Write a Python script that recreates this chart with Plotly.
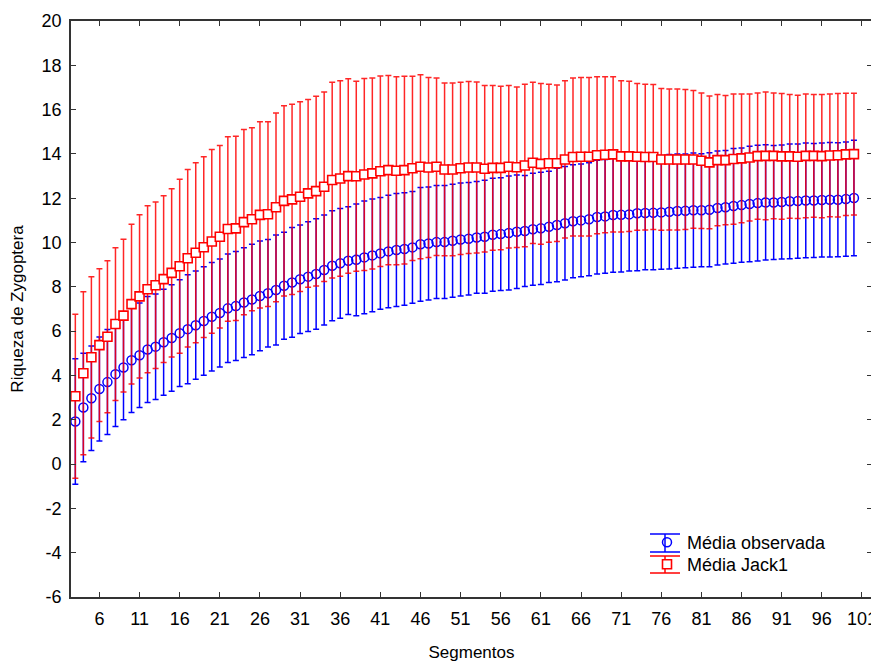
import plotly.graph_objects as go

segmentos = list(range(3, 101))

media_obs = [1.92, 2.55, 2.97, 3.39, 3.70, 4.06, 4.36, 4.69, 4.91, 5.17,
             5.30, 5.50, 5.69, 5.91, 6.09, 6.27, 6.46, 6.65, 6.82, 7.03,
             7.13, 7.29, 7.43, 7.59, 7.71, 7.86, 8.05, 8.20, 8.34, 8.46,
             8.58, 8.76, 8.95, 9.06, 9.18, 9.22, 9.33, 9.42, 9.51, 9.60,
             9.66, 9.71, 9.78, 9.92, 9.96, 10.02, 10.02, 10.08, 10.14, 10.17,
             10.23, 10.26, 10.35, 10.38, 10.43, 10.49, 10.52, 10.60, 10.64, 10.71,
             10.79, 10.87, 10.96, 11.00, 11.05, 11.15, 11.18, 11.24, 11.25, 11.27,
             11.32, 11.33, 11.34, 11.36, 11.39, 11.42, 11.43, 11.46, 11.46, 11.48,
             11.56, 11.59, 11.65, 11.69, 11.74, 11.78, 11.81, 11.81, 11.83, 11.86,
             11.87, 11.90, 11.90, 11.92, 11.93, 11.93, 11.96, 12.01]

erro_obs = [2.83, 2.45, 2.36, 2.35, 2.37, 2.36, 2.36, 2.36, 2.36, 2.39,
            2.38, 2.39, 2.40, 2.41, 2.46, 2.44, 2.45, 2.45, 2.44, 2.45,
            2.46, 2.48, 2.49, 2.48, 2.43, 2.48, 2.42, 2.48, 2.45, 2.48,
            2.49, 2.48, 2.48, 2.48, 2.43, 2.52, 2.55, 2.54, 2.52, 2.54,
            2.55, 2.54, 2.52, 2.57, 2.55, 2.55, 2.55, 2.55, 2.55, 2.54,
            2.52, 2.55, 2.55, 2.55, 2.57, 2.56, 2.51, 2.53, 2.53, 2.51,
            2.56, 2.56, 2.55, 2.54, 2.55, 2.57, 2.57, 2.58, 2.58, 2.55,
            2.59, 2.56, 2.57, 2.57, 2.58, 2.58, 2.57, 2.58, 2.55, 2.57,
            2.57, 2.56, 2.59, 2.58, 2.61, 2.61, 2.60, 2.57, 2.57, 2.59,
            2.58, 2.59, 2.57, 2.57, 2.58, 2.57, 2.58, 2.61]

media_jack1 = [3.06, 4.10, 4.82, 5.37, 5.75, 6.32, 6.70, 7.22, 7.57, 7.89,
               8.07, 8.35, 8.63, 8.93, 9.29, 9.54, 9.79, 10.05, 10.26, 10.61,
               10.64, 10.92, 11.05, 11.25, 11.28, 11.59, 11.88, 11.95, 12.07, 12.22,
               12.32, 12.52, 12.82, 12.89, 13.00, 12.99, 13.07, 13.12, 13.22, 13.27,
               13.24, 13.27, 13.35, 13.42, 13.39, 13.42, 13.30, 13.30, 13.35, 13.39,
               13.39, 13.33, 13.37, 13.37, 13.42, 13.40, 13.48, 13.60, 13.55, 13.58,
               13.58, 13.75, 13.86, 13.87, 13.87, 13.94, 13.96, 13.98, 13.89, 13.89,
               13.87, 13.86, 13.86, 13.75, 13.75, 13.75, 13.75, 13.75, 13.69, 13.62,
               13.72, 13.72, 13.77, 13.80, 13.84, 13.90, 13.91, 13.91, 13.89, 13.89,
               13.87, 13.91, 13.91, 13.90, 13.93, 13.94, 13.98, 13.99]

erro_jack1 = [3.70, 3.68, 3.64, 3.45, 3.43, 3.45, 3.45, 3.60, 3.68, 3.77,
              3.76, 3.76, 3.80, 3.93, 4.01, 4.06, 4.08, 4.15, 4.12, 4.16,
              4.16, 4.18, 4.13, 4.20, 4.17, 4.26, 4.29, 4.29, 4.28, 4.24,
              4.28, 4.28, 4.42, 4.41, 4.39, 4.29, 4.33, 4.31, 4.30, 4.27,
              4.24, 4.24, 4.16, 4.15, 4.06, 4.01, 3.90, 3.90, 3.89, 3.88,
              3.86, 3.76, 3.72, 3.69, 3.67, 3.62, 3.67, 3.64, 3.63, 3.57,
              3.53, 3.55, 3.57, 3.58, 3.58, 3.54, 3.52, 3.50, 3.41, 3.39,
              3.31, 3.29, 3.27, 3.20, 3.18, 3.18, 3.16, 3.11, 3.06, 3.00,
              2.96, 2.92, 2.94, 2.91, 2.87, 2.85, 2.88, 2.84, 2.84, 2.79,
              2.78, 2.79, 2.77, 2.78, 2.77, 2.79, 2.76, 2.75]

x_ticks = list(range(6, 102, 5))
y_ticks = list(range(-6, 21, 2))

FONT = "Liberation Sans, Arial, sans-serif"
BLUE = "#0000ff"
RED = "#ff0000"
RED_BAR = "rgba(255,0,0,0.85)"

# the page body adds an 8 px margin; figure sized so the plot lands where the original is
OFF = 8
W, H = 871, 654
ML, MR, MT, MB = 63, 7, 13, 65
PW, PH = W - ML - MR, H - MT - MB

fig = go.Figure()

fig.add_trace(go.Scatter(
    x=segmentos, y=media_obs, mode="markers", name="Média observada",
    legend="legend", showlegend=True,
    marker=dict(symbol="circle-open", size=9, color=BLUE, line=dict(width=1.5, color=BLUE)),
    error_y=dict(type="data", array=erro_obs, visible=True, color=BLUE,
                 thickness=1.5, width=3),
))

fig.add_trace(go.Scatter(
    x=segmentos, y=media_jack1, mode="markers", name="Média Jack1",
    legend="legend2", showlegend=True,
    marker=dict(symbol="square", size=9, color="white", line=dict(width=1.6, color=RED)),
    error_y=dict(type="data", array=erro_jack1, visible=True, color=RED_BAR,
                 thickness=1.5, width=3),
))

axis_common = dict(
    showline=True, linecolor="#333333", linewidth=1.6, mirror="ticks",
    ticks="inside", ticklen=5, tickwidth=1.3, tickcolor="#333333",
    showgrid=False, zeroline=False, automargin=False, ticklabeloverflow="allow",
    tickfont=dict(family=FONT, size=18, color="black"),
)

fig.update_xaxes(range=[2.46, 102.25], tickvals=x_ticks, ticktext=[str(v) for v in x_ticks],
                 ticklabelstandoff=5,
                 title=dict(text="Segmentos", font=dict(family=FONT, size=17, color="black"), standoff=19),
                 **axis_common)
fig.update_yaxes(range=[-6, 20], tickvals=y_ticks, ticktext=[str(v) for v in y_ticks],
                 ticklabelstandoff=4,
                 title=dict(text="Riqueza de Zygoptera", font=dict(family=FONT, size=17, color="black"), standoff=14),
                 **axis_common)


def px_to_paper(px, py):
    """page pixel -> paper coordinates"""
    return (px - OFF - ML) / PW, (H - MB - (py - OFF)) / PH


# legend glyph decoration (error-bar style symbol as in the original legend)
shapes = []
for color, ytop, ybot in [(BLUE, 534, 552), (RED, 556, 573)]:
    x0, y0 = px_to_paper(650, ytop)
    x1, y1 = px_to_paper(680, ybot)
    xm, _ = px_to_paper(665, ytop)
    line = dict(color=color, width=1.5)
    shapes.append(dict(type="line", xref="paper", yref="paper", x0=x0, x1=x1, y0=y0, y1=y0, line=line))
    shapes.append(dict(type="line", xref="paper", yref="paper", x0=x0, x1=x1, y0=y1, y1=y1, line=line))
    shapes.append(dict(type="line", xref="paper", yref="paper", x0=xm, x1=xm, y0=y0, y1=y1, line=line))

l1x, l1y = px_to_paper(647, 524)
l2x, l2y = px_to_paper(647, 546)

legend_common = dict(xanchor="left", yanchor="top", bgcolor="rgba(0,0,0,0)",
                     font=dict(family=FONT, size=18), itemwidth=30, visible=True)

fig.update_layout(
    width=W, height=H,
    margin=dict(l=ML, r=MR, t=MT, b=MB),
    plot_bgcolor="white", paper_bgcolor="white",
    font=dict(family=FONT, size=17, color="black"),
    showlegend=True,
    shapes=shapes,
    legend=dict(x=l1x, y=l1y, **legend_common),
    legend2=dict(x=l2x, y=l2y, **legend_common),
)

fig.write_html("out.html")
